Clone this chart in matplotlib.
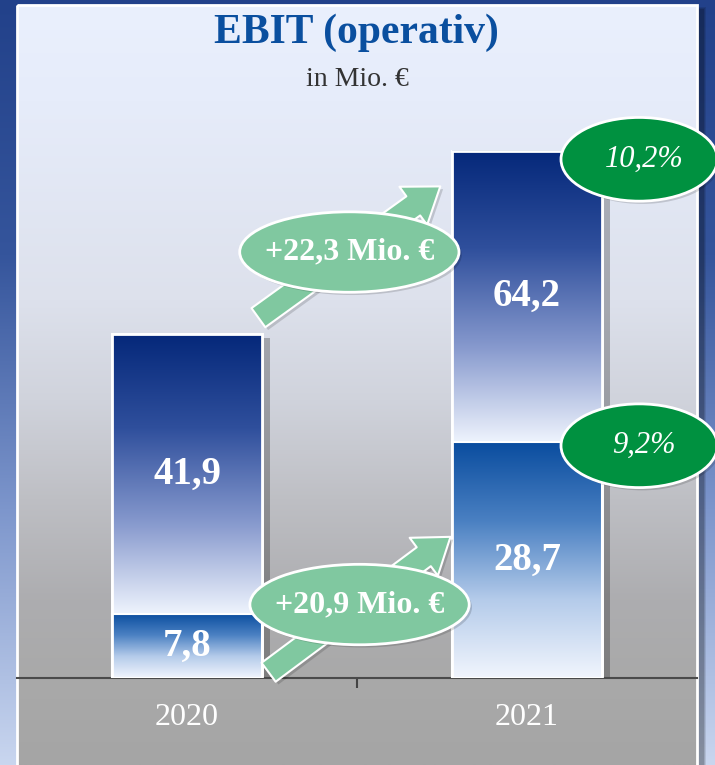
import numpy as np
import matplotlib.pyplot as plt
import matplotlib.patheffects as pe
from matplotlib.colors import LinearSegmentedColormap
from matplotlib.patches import Ellipse, Rectangle, FancyArrowPatch

plt.rcParams['font.family'] = ['Liberation Serif', 'DejaVu Serif']

# data
years = ['2020', '2021']
ebit_total = [41.9, 64.2]
ebit_part = [7.8, 28.7]
margins = ['10,2%', '9,2%']
change_total = '+22,3 Mio. €'
change_part = '+20,9 Mio. €'


def fmt(v):
    return f'{v:.1f}'.replace('.', ',')


W, H = 715, 765
fig = plt.figure(figsize=(W / 100, H / 100), dpi=100)

# background (pixel coordinates)
bg = fig.add_axes([0, 0, 1, 1])
bg.set_xlim(0, W)
bg.set_ylim(H, 0)
bg.axis('off')
grad = np.linspace(0, 1, 256)[:, None]
outer = LinearSegmentedColormap.from_list('outer', ['#22418a', '#35559c', '#7d96cc', '#c9d6ef'])
bg.imshow(grad, extent=(0, W, H, 0), cmap=outer, aspect='auto', zorder=0)

# panel shadow + panel
for k, a in enumerate([0.10, 0.12, 0.15]):
    bg.add_patch(Rectangle((19 + k, 7 + k), 687 - 2 * k, 770, color='black', alpha=a, lw=0, zorder=1))
panel_cmap = LinearSegmentedColormap.from_list('panel', [
    (0.0, '#eaf0fd'), (0.125, '#e6ecfa'), (0.388, '#dde1ec'), (0.52, '#d0d3dc'),
    (0.651, '#bebfc4'), (0.783, '#adadb0'), (0.886, '#a9a9a9'), (1.0, '#a5a5a5')])
bg.imshow(grad, extent=(17, 697, 765, 5), cmap=panel_cmap, aspect='auto', zorder=2)
bg.add_patch(Rectangle((17, 5), 680, 775, fill=False, edgecolor='white', lw=2, zorder=3))

# chart axes
ax = fig.add_axes([17 / W, (H - 678) / H, 680 / W, 673 / H])
ax.patch.set_alpha(0)
x = np.arange(len(years))
bw = 0.44

top_cmap = LinearSegmentedColormap.from_list('top', ['#05287a', '#2f4f9c', '#8497cc', '#eef3fd'])
low_cmap = LinearSegmentedColormap.from_list('low', ['#0a4d9f', '#4a80c2', '#b4cbea', '#f1f5fd'])

bars = ax.bar(x, ebit_total, bw, facecolor='white', edgecolor='white', lw=2, zorder=2)
for b in bars:
    b.set_path_effects([pe.SimplePatchShadow(offset=(6, -3), shadow_rgbFace='black', alpha=0.25), pe.Normal()])

for i in range(len(years)):
    ax.imshow(grad, extent=(x[i] - bw / 2, x[i] + bw / 2, ebit_part[i], ebit_total[i]),
              cmap=top_cmap, aspect='auto', zorder=3)
    ax.imshow(grad, extent=(x[i] - bw / 2, x[i] + bw / 2, 0, ebit_part[i]),
              cmap=low_cmap, aspect='auto', zorder=3)
    ax.text(x[i], (ebit_part[i] + ebit_total[i]) / 2, fmt(ebit_total[i]), ha='center', va='center',
            color='white', fontsize=28, weight='bold', zorder=7)
    ax.text(x[i], ebit_part[i] / 2, fmt(ebit_part[i]), ha='center', va='center',
            color='white', fontsize=28, weight='bold', zorder=7)

ax.bar(x, ebit_total, bw, fill=False, edgecolor='white', lw=2, zorder=4)
ax.bar(x, ebit_part, bw, fill=False, edgecolor='white', lw=1.5, zorder=4)

light = '#80c8a0'
dark = '#009140'
shadow = [pe.SimplePatchShadow(offset=(2, -2), shadow_rgbFace='black', alpha=0.15), pe.Normal()]

# growth arrows with labels
arrows = [((0.21, ebit_total[0] + 2), (0.745, ebit_total[0] + 18), change_total),
          ((0.24, 0.7), (0.775, 17.2), change_part)]
for (p0, p1, lab) in arrows:
    arr = FancyArrowPatch(p0, p1, arrowstyle='simple,head_length=1.2,head_width=1.7,tail_width=0.85',
                          mutation_scale=20, fc=light, ec='white', lw=1.5, shrinkA=0, shrinkB=0,
                          zorder=5, clip_on=False)
    arr.set_path_effects(shadow)
    ax.add_patch(arr)
    cx, cy = (p0[0] + p1[0]) / 2, (p0[1] + p1[1]) / 2
    e = Ellipse((cx, cy), 0.645, 9.8, fc=light, ec='white', lw=2, zorder=6, clip_on=False)
    e.set_path_effects(shadow)
    ax.add_patch(e)
    ax.text(cx, cy, lab, ha='center', va='center', color='white', fontsize=23, weight='bold', zorder=7)

# margin ellipses
for val, m in zip([ebit_total[1] - 1, ebit_part[1] - 0.4], margins):
    e = Ellipse((1.33, val), 0.46, 10.2, fc=dark, ec='white', lw=2, zorder=6, clip_on=False)
    e.set_path_effects(shadow)
    ax.add_patch(e)
    ax.text(1.345, val, m, ha='center', va='center', color='white', fontsize=22, style='italic', zorder=7)

ax.set_xlim(-0.5, 1.5)
ax.set_ylim(0, 82)
for s in ['left', 'right', 'top']:
    ax.spines[s].set_visible(False)
ax.spines['bottom'].set_color('#4a4a4a')
ax.spines['bottom'].set_linewidth(1.5)
ax.set_yticks([])
ax.set_xticks(x)
ax.set_xticklabels(years)
ax.set_xticks([0.5], minor=True)
ax.tick_params(axis='x', which='major', length=0, pad=18, labelsize=23, labelcolor='white')
ax.tick_params(axis='x', which='minor', length=7, width=1.5, color='#444444')

fig.text(356 / W, 1 - 33 / H, 'EBIT (operativ)', ha='center', va='center', fontsize=30,
         weight='bold', color='#0a4f9f')
fig.text(357 / W, 1 - 79 / H, 'in Mio. €', ha='center', va='center', fontsize=20, color='#333333')

fig.savefig('out.png', dpi=100)
